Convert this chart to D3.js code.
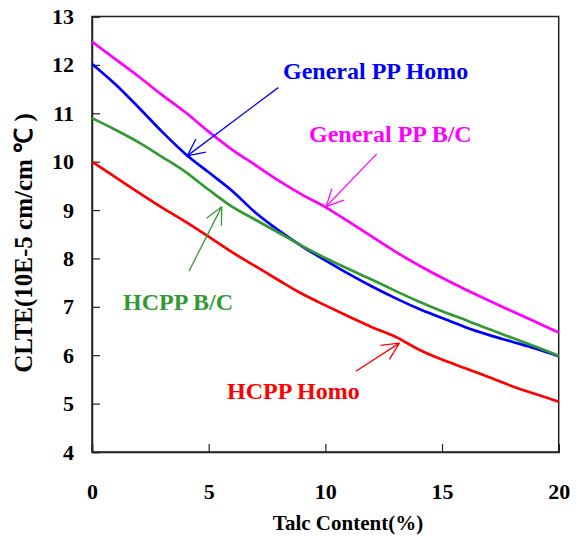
<!DOCTYPE html>
<html><head><meta charset="utf-8">
<script src="https://cdn.jsdelivr.net/npm/d3@7/dist/d3.min.js"></script>
<style>body{margin:0;background:#fff}svg{display:block}text{font-family:"Liberation Serif","Times New Roman",serif;font-weight:bold}</style>
</head><body><div id="chart"></div>
<script>
const talc = [0,1,2,3,4,5,6,7,8,9,10,11,12,13,14,15,16,17,18,19,20];
const generalBC   = [12.48,12.12,11.76,11.38,11.02,10.62,10.25,9.93,9.61,9.32,9.06,8.76,8.45,8.14,7.86,7.60,7.36,7.13,6.91,6.69,6.47];
const generalHomo = [12.02,11.60,11.12,10.62,10.16,9.78,9.40,8.95,8.58,8.25,7.96,7.68,7.42,7.18,6.96,6.77,6.58,6.42,6.28,6.14,5.98];
const hcppBC      = [10.90,10.66,10.40,10.10,9.79,9.42,9.07,8.80,8.53,8.26,8.01,7.78,7.56,7.33,7.11,6.91,6.73,6.54,6.36,6.18,5.99];
const hcppHomo    = [10.00,9.68,9.36,9.05,8.76,8.45,8.13,7.84,7.55,7.27,7.03,6.80,6.58,6.38,6.12,5.91,5.73,5.55,5.36,5.20,5.04];
const xTicks = [0,5,10,15,20];
const yTicks = [4,5,6,7,8,9,10,11,12,13];
const seriesNames = ["General PP B/C","General PP Homo","HCPP B/C","HCPP Homo"];
const seriesColors = ["#FF00FF","#0000FF","#339933","#FF0000"];
// annotations: label position (px), arrow from -> to (data units)
const annotations = [
  {s:1, label:[283,79], from:[7.98,11.53], to:[4.08,10.12]},
  {s:0, label:[309,142], from:[12.2,10.16], to:[10.03,9.07]},
  {s:2, label:[123,310], from:[4.16,7.74], to:[5.56,9.07]},
  {s:3, label:[227,399], from:[11.31,5.67], to:[13.17,6.25]}
];

const W=579,H=536;
const m={l:92,r:20.3,t:16.5,b:84};
const svg=d3.select("#chart").append("svg").attr("width",W).attr("height",H);
const x=d3.scaleLinear().domain([0,20]).range([m.l,W-m.r]);
const y=d3.scaleLinear().domain([4,13]).range([H-m.b,m.t]);

// frame
svg.append("rect").attr("x",x(0)).attr("y",y(13)).attr("width",x(20)-x(0)).attr("height",y(4)-y(13))
  .attr("fill","none").attr("stroke","#222").attr("stroke-width",1.5);

const yAxis=d3.axisLeft(y).tickValues(yTicks).tickSize(-8).tickPadding(18).tickFormat(d3.format("d"));
const gy=svg.append("g").attr("transform",`translate(${x(0)},0)`).call(yAxis);
gy.select(".domain").attr("stroke","#222").attr("stroke-width",1.5);
gy.selectAll(".tick line").attr("stroke","#222").attr("stroke-width",1.2);
gy.selectAll(".tick text").attr("font-size",22).attr("fill","#000").attr("font-family","Liberation Serif").attr("font-weight","bold");

const xAxis=d3.axisBottom(x).tickValues(xTicks).tickSize(-8).tickPadding(31).tickFormat(d3.format("d"));
const gx=svg.append("g").attr("transform",`translate(0,${y(4)})`).call(xAxis);
gx.select(".domain").attr("stroke","#222").attr("stroke-width",1.5);
gx.selectAll(".tick line").attr("stroke","#222").attr("stroke-width",1.2);
gx.selectAll(".tick text").attr("font-size",22).attr("fill","#000").attr("font-family","Liberation Serif").attr("font-weight","bold");

// axis titles
svg.append("text").attr("x",348).attr("y",530).attr("text-anchor","middle")
  .attr("font-size",21).text("Talc Content(%)");
svg.append("text").attr("transform",`translate(32,243) rotate(-90)`).attr("text-anchor","middle")
  .attr("font-size",25).text("CLTE(10E-5 cm/cm ℃ )");

const data=[generalBC,generalHomo,hcppBC,hcppHomo];
const line=d3.line().x((d,i)=>x(talc[i])).y(d=>y(d)).curve(d3.curveMonotoneX);
data.forEach((vals,k)=>{
  svg.append("path").datum(vals).attr("d",line).attr("fill","none")
    .attr("stroke",seriesColors[k]).attr("stroke-width",2.7).attr("stroke-linejoin","round");
});

annotations.forEach(a=>{
  const c=seriesColors[a.s];
  const x1=x(a.from[0]),y1=y(a.from[1]),x2=x(a.to[0]),y2=y(a.to[1]);
  svg.append("line").attr("x1",x1).attr("y1",y1).attr("x2",x2).attr("y2",y2).attr("stroke",c).attr("stroke-width",1.3);
  const ang=Math.atan2(y1-y2,x1-x2), L=19, sp=0.45;
  [ang+sp,ang-sp].forEach(t=>{
    svg.append("line").attr("x1",x2).attr("y1",y2).attr("x2",x2+L*Math.cos(t)).attr("y2",y2+L*Math.sin(t))
      .attr("stroke",c).attr("stroke-width",1.3);
  });
  svg.append("text").attr("x",a.label[0]).attr("y",a.label[1]).attr("fill",c).attr("font-size",24).text(seriesNames[a.s]);
});
</script></body></html>
